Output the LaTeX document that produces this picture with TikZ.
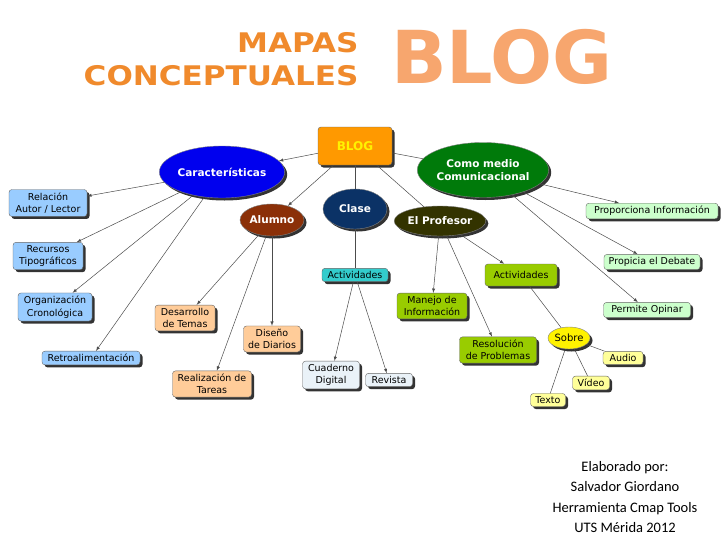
\documentclass[tikz,border=0pt]{standalone}
\usepackage{fontspec}
\setmainfont{DejaVu Sans}
\newfontfamily\titlefont[FakeStretch=1.15]{DejaVu Sans}
\newfontfamily\bigfont{DejaVu Sans}
\newfontfamily\creditfont{Carlito}
\usetikzlibrary{shapes.geometric,shadows}
\definecolor{blogorange}{HTML}{FF9900}
\definecolor{bigorange}{HTML}{F7A66E}
\definecolor{titleorange}{HTML}{F08A2C}
\definecolor{carblue}{HTML}{0000EE}
\definecolor{comgreen}{HTML}{007A0A}
\definecolor{alubrown}{HTML}{8B3008}
\definecolor{clasenavy}{HTML}{0B3266}
\definecolor{profolive}{HTML}{333300}
\definecolor{lightblue}{HTML}{99CCFF}
\definecolor{peach}{HTML}{FFCC99}
\definecolor{teal}{HTML}{33CCCC}
\definecolor{olivegreen}{HTML}{99CC00}
\definecolor{mint}{HTML}{CCFFCC}
\definecolor{paleblue}{HTML}{EAF2F8}
\definecolor{paleyellow}{HTML}{FFFF99}
\tikzset{
  shade/.style={drop shadow={shadow xshift=2.5pt,shadow yshift=-2.5pt,fill=black!80,opacity=1}},
  concept/.style={draw=black!60,rounded corners=3pt,align=center,font=\fontsize{9.5}{12.5}\selectfont,
    inner sep=3pt,shade},
  bubble/.style={ellipse,draw=black!50,align=center,text=white,font=\bfseries\fontsize{10.5}{13}\selectfont,
    inner sep=0pt,shade},
  link/.style={draw=black!70,line width=0.5pt},
  arr/.style={link,-latex}
}
\begin{document}
\begin{tikzpicture}[x=1pt,y=-1pt]

  % white page
  \fill [white] (0,0) rectangle (728,546);

  % title
  \node [anchor=east,text=titleorange,font=\titlefont\bfseries\fontsize{27}{29}\selectfont] (mapas) at (362,43) {MAPAS};
  \node [anchor=east,text=titleorange,font=\titlefont\bfseries\fontsize{27}{29}\selectfont] (concep) at (362,76) {CONCEPTUALES};
  \node [text=bigorange,font=\bigfont\bfseries\fontsize{73}{75}\selectfont] (bigblog) at (502,57) {BLOG};

  % main nodes
  \node [concept,fill=blogorange,draw=black!60,minimum width=74,minimum height=38,text=yellow,
    font=\bfseries\fontsize{12}{13}\selectfont] (blog) at (355,146) {BLOG};
  \node [bubble,fill=carblue,minimum width=110,minimum height=52] (carac) at (222,172) {Características};
  \node [bubble,fill=comgreen,minimum width=118,minimum height=55] (como) at (483,170) {Como medio\\Comunicacional};
  \node [bubble,fill=alubrown,minimum width=64,minimum height=32] (alumno) at (272,220) {Alumno};
  \node [bubble,fill=clasenavy,minimum width=64,minimum height=40] (clase) at (355,209) {Clase};
  \node [bubble,fill=profolive,minimum width=80,minimum height=30] (profe) at (440,221) {El Profesor};
  \node [bubble,fill=yellow,text=black,font=\fontsize{10}{12}\selectfont,minimum width=42,minimum height=22] (sobre) at (569,338) {Sobre};

  % caracteristicas
  \node [concept,fill=lightblue,minimum width=78] (rel) at (48,203) {Relación\\Autor / Lector};
  \node [concept,fill=lightblue,minimum width=70] (rec) at (48,256) {Recursos\\Tipográficos};
  \node [concept,fill=lightblue,minimum width=74] (org) at (55,307) {Organización\\Cronológica};
  \node [concept,fill=lightblue,minimum width=98] (retro) at (91,358) {Retroalimentación};

  % alumno
  \node [concept,fill=peach,minimum width=60] (desa) at (185,318) {Desarrollo\\de Temas};
  \node [concept,fill=peach,minimum width=57] (dise) at (272,339) {Diseño\\de Diarios};
  \node [concept,fill=peach,minimum width=79] (real) at (212,384) {Realización de\\Tareas};

  % clase
  \node [concept,fill=teal,minimum width=66] (actc) at (355,275) {Actividades};
  \node [concept,fill=paleblue,minimum width=57] (cuad) at (331,375) {Cuaderno\\Digital};
  \node [concept,fill=paleblue,minimum width=47] (revi) at (389,380) {Revista};

  % profesor
  \node [concept,fill=olivegreen,minimum width=72,minimum height=22] (actp) at (521,275) {Actividades};
  \node [concept,fill=olivegreen,minimum width=70] (mane) at (432,306) {Manejo de\\Información};
  \node [concept,fill=olivegreen,minimum width=77] (reso) at (498,350) {Resolución\\de Problemas};
  \node [concept,fill=paleyellow,minimum width=40] (audio) at (623,358) {Audio};
  \node [concept,fill=paleyellow,minimum width=37] (video) at (591,383) {Vídeo};
  \node [concept,fill=paleyellow,minimum width=35] (texto) at (548,400) {Texto};

  % como medio
  \node [concept,fill=mint,minimum width=132] (prop) at (652,211) {Proporciona Información};
  \node [concept,fill=mint,minimum width=96] (debate) at (652,262) {Propicia el Debate};
  \node [concept,fill=mint,minimum width=87] (opinar) at (647,310) {Permite Opinar};

  % connectors
  \draw [arr] (blog) -- (carac);
  \draw [arr] (blog) -- (alumno);
  \draw [link] (blog) -- (clase);
  \draw [link] (blog) -- (profe);
  \draw [link] (blog) -- (como);
  \foreach \n in {rel,rec,org,retro}
    \draw [arr] (carac) -- (\n);
  \foreach \n in {desa,dise,real}
    \draw [arr] (alumno) -- (\n);
  \draw [link] (clase) -- (actc);
  \foreach \n in {cuad,revi}
    \draw [arr] (actc) -- (\n);
  \foreach \n in {mane,reso,actp}
    \draw [arr] (profe) -- (\n);
  \draw [link] (actp) -- (sobre);
  \foreach \n in {audio,video,texto}
    \draw [link] (sobre) -- (\n);
  \foreach \n in {prop,debate,opinar}
    \draw [arr] (como) -- (\n);

  % credits
  \node [align=center,font=\creditfont\fontsize{14.5}{20.5}\selectfont] (credits) at (625,497)
    {Elaborado por:\\Salvador Giordano\\Herramienta Cmap Tools\\UTS Mérida 2012};

\end{tikzpicture}
\end{document}
